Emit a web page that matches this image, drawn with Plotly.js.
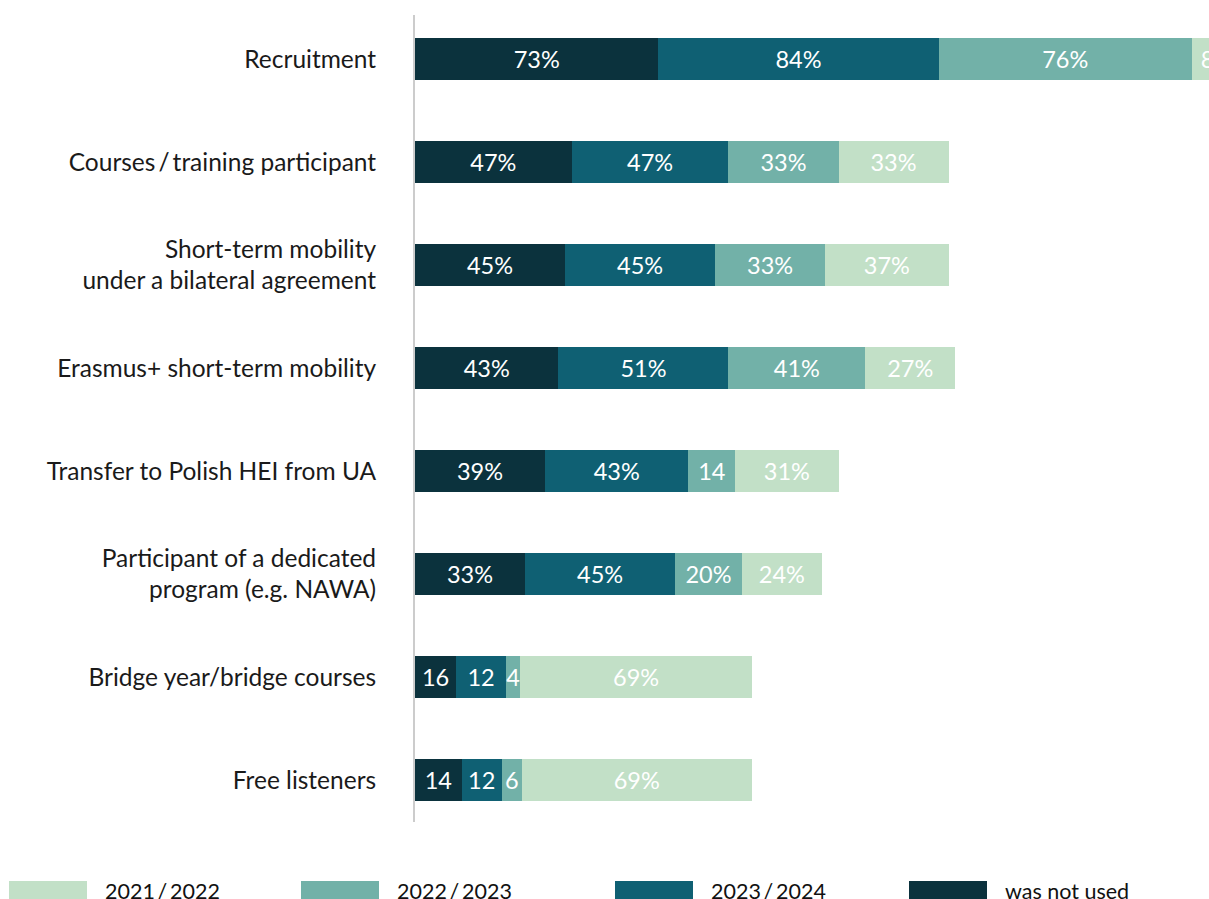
<!DOCTYPE html>
<html>
<head>
<meta charset="utf-8">
<script src="https://cdn.plot.ly/plotly-3.0.1.min.js"></script>
<style>html,body{margin:0;padding:0;background:#fff;}#chart{width:1209px;height:899px;}</style>
</head>
<body>
<div id="chart"></div>
<script>
const categories = [
  "Recruitment",
  "Courses\u2009/\u2009training participant",
  "Short-term mobility<br>under a bilateral agreement",
  "Erasmus+ short-term mobility",
  "Transfer to Polish HEI from UA",
  "Participant of a dedicated<br>program (e.g. NAWA)",
  "Bridge year/bridge courses",
  "Free listeners"
];
// bar lengths as drawn in the picture (first row's last segment runs past the edge)
const notUsed   = [73, 47, 45, 43, 39, 33, 12.3, 14];
const y2023_24  = [84, 47, 45, 51, 43, 45, 15, 12];
const y2022_23  = [76, 33, 33, 41, 14, 20, 4.2, 6];
const y2021_22  = [15, 33, 37, 27, 31, 24, 69.6, 69];
// labels printed on the bars
const notUsedLabels  = ["73%", "47%", "45%", "43%", "39%", "33%", "16", "14"];
const y2023_24Labels = ["84%", "47%", "45%", "51%", "43%", "45%", "12", "12"];
const y2022_23Labels = ["76%", "33%", "33%", "41%", "14", "20%", "4", "6"];
const y2021_22Labels = ["8%", "33%", "37%", "27%", "31%", "24%", "69%", "69%"];
const seriesNames = ["was not used", "2023\u2009/\u20092024", "2022\u2009/\u20092023", "2021\u2009/\u20092022"];
const legendOrder = ["2021\u2009/\u20092022", "2022\u2009/\u20092023", "2023\u2009/\u20092024", "was not used"];
const colors = {
  "was not used": "#0b323d",
  "2023\u2009/\u20092024": "#0f6073",
  "2022\u2009/\u20092023": "#72b1a8",
  "2021\u2009/\u20092022": "#c2e0c7"
};

const W = 1209, H = 899;
const M = {l: 415, r: 0, t: 15, b: 77};
const pw = W - M.l - M.r, ph = H - M.t - M.b;
const px2x = p => (p - M.l) / pw;
const px2y = p => (H - M.b - p) / ph;

const idx = categories.map((c, i) => i);
const allVals = [notUsed, y2023_24, y2022_23, y2021_22];
const allLabels = [notUsedLabels, y2023_24Labels, y2022_23Labels, y2021_22Labels];
const traces = allVals.map((vals, k) => ({
  type: "bar",
  orientation: "h",
  name: seriesNames[k],
  y: idx,
  x: vals,
  width: 0.4,
  marker: {color: colors[seriesNames[k]], line: {width: 0}},
  text: allLabels[k],
  textposition: "inside",
  insidetextanchor: "middle",
  constraintext: "none",
  textangle: 0,
  insidetextfont: {family: "Lato", size: 23.5, color: "#ffffff"},
  hoverinfo: "x+name",
  showlegend: false
}));

const shapes = [];
const annotations = [];
const boxX = [9, 301, 615, 909];
legendOrder.forEach((name, i) => {
  shapes.push({
    type: "rect", xref: "paper", yref: "paper",
    x0: px2x(boxX[i]), x1: px2x(boxX[i] + 78),
    y0: px2y(905), y1: px2y(881),
    fillcolor: colors[name], line: {width: 0}, layer: "above"
  });
  annotations.push({
    xref: "paper", yref: "paper",
    x: px2x(boxX[i] + 94), y: px2y(891),
    xanchor: "left", yanchor: "middle",
    text: name, showarrow: false,
    font: {family: "Lato", size: 21.5, color: "#111111"}
  });
});

const layout = {
  width: W, height: H,
  margin: M,
  barmode: "stack",
  bargap: 0,
  paper_bgcolor: "#ffffff",
  plot_bgcolor: "#ffffff",
  showlegend: false,
  xaxis: {range: [0, 238.1], visible: false, showgrid: false, zeroline: false, fixedrange: true},
  yaxis: {
    range: [7.408, -0.427],
    tickmode: "array", tickvals: idx, ticktext: categories,
    showgrid: false, zeroline: false,
    showline: true, linecolor: "#cccccc", linewidth: 2,
    ticks: "", ticklabelstandoff: 32,
    tickfont: {family: "Lato", size: 24.5, color: "#1a1a1a"},
    fixedrange: true
  },
  shapes: shapes,
  annotations: annotations,
  font: {family: "Lato"}
};

Plotly.newPlot("chart", traces, layout, {displayModeBar: false, staticPlot: true});
</script>
</body>
</html>
